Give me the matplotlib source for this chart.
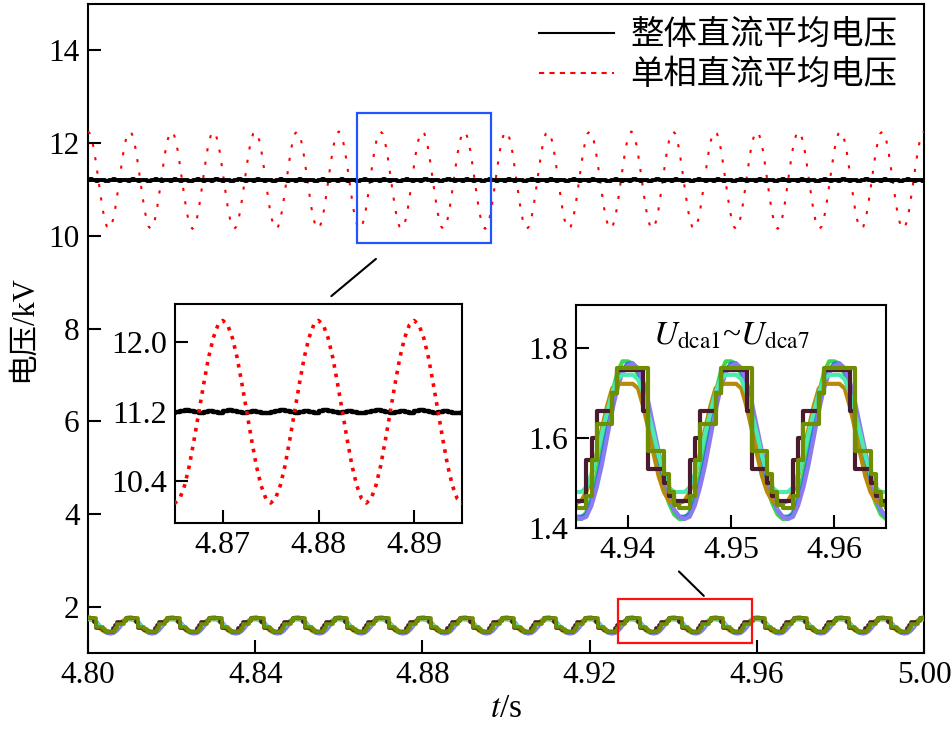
import numpy as np
import matplotlib
matplotlib.use("Agg")
import matplotlib.pyplot as plt
from matplotlib.lines import Line2D
from matplotlib.patches import Rectangle

plt.rcParams['font.family'] = ['Liberation Serif', 'Noto Sans CJK SC']
plt.rcParams['mathtext.fontset'] = 'stix'

# ---------------- data (one sampled cycle per signal, period 0.01 s, dt = 0.0005 s) -------------
t_start = 4.80
t_end = 5.00
dt = 0.0005
n_cycles = 20

red_cycle = [12.25, 12.20, 12.05, 11.82, 11.52, 11.20, 10.88, 10.58, 10.35, 10.20,
             10.15, 10.20, 10.35, 10.58, 10.88, 11.20, 11.52, 11.82, 12.05, 12.20]
black_cycle = [11.21, 11.22, 11.21, 11.20, 11.19, 11.20, 11.21, 11.20, 11.19, 11.19,
               11.20, 11.21, 11.22, 11.21, 11.20, 11.19, 11.20, 11.21, 11.20, 11.19]

green_cycle = [1.77, 1.765, 1.74, 1.70, 1.645, 1.59, 1.535, 1.49, 1.455, 1.43,
               1.42, 1.42, 1.435, 1.47, 1.52, 1.58, 1.64, 1.70, 1.745, 1.77]
blue_cycle = [1.765, 1.765, 1.75, 1.715, 1.665, 1.61, 1.555, 1.505, 1.465, 1.44,
              1.425, 1.425, 1.43, 1.46, 1.50, 1.555, 1.615, 1.675, 1.72, 1.75]
purple_cycle = [1.76, 1.765, 1.755, 1.725, 1.68, 1.625, 1.57, 1.515, 1.47, 1.44,
                1.425, 1.42, 1.425, 1.45, 1.49, 1.54, 1.60, 1.66, 1.71, 1.745]
gold_cycle = [1.72, 1.72, 1.71, 1.67, 1.62, 1.565, 1.515, 1.48, 1.46, 1.455,
              1.455, 1.46, 1.48, 1.515, 1.565, 1.62, 1.67, 1.71, 1.72, 1.72]
aqua_cycle = [1.74, 1.74, 1.73, 1.70, 1.655, 1.61, 1.56, 1.52, 1.49, 1.48,
              1.48, 1.48, 1.49, 1.52, 1.56, 1.61, 1.655, 1.70, 1.73, 1.74]
maroon_cycle = [1.75, 1.75, 1.75, 1.66, 1.53, 1.53, 1.53, 1.50, 1.47, 1.46,
                1.46, 1.46, 1.55, 1.60, 1.66, 1.66, 1.66, 1.70, 1.75, 1.75]
olive_cycle = [1.755, 1.755, 1.755, 1.755, 1.57, 1.57, 1.57, 1.52, 1.48, 1.45,
               1.445, 1.445, 1.47, 1.55, 1.63, 1.63, 1.63, 1.70, 1.755, 1.755]

module_cycles = [green_cycle, blue_cycle, purple_cycle, gold_cycle, aqua_cycle, maroon_cycle, olive_cycle]
module_colors = ['#3fd84c', '#2a78e6', '#8b7bef', '#b88a0a', '#4deab0', '#4a1a2e', '#6f8f00']
module_steps = [False, False, False, False, False, True, True]

legend_labels = ['整体直流平均电压', '单相直流平均电压']
main_xticks = [4.80, 4.84, 4.88, 4.92, 4.96, 5.00]
main_yticks = [2, 4, 6, 8, 10, 12, 14]
in1_xticks = [4.87, 4.88, 4.89]
in1_yticks = [10.4, 11.2, 12.0]
in2_xticks = [4.94, 4.95, 4.96]
in2_yticks = [1.4, 1.6, 1.8]

# ---------------- build series -------------
t = t_start + np.arange(len(red_cycle) * n_cycles + 1) * dt


def series(cycle):
    return np.concatenate([np.tile(cycle, n_cycles), cycle[:1]])


red = series(red_cycle)
black = series(black_cycle)
modules = [series(c) for c in module_cycles]

fig = plt.figure(figsize=(9.52, 7.41), dpi=100)
ax = fig.add_axes([88 / 952, 1 - 653 / 741, (924 - 88) / 952, (653 - 4) / 741])


def style_axes(a, fs, length=9.5):
    for s in a.spines.values():
        s.set_linewidth(1.5)
    a.tick_params(direction='in', length=length, width=1.5, labelsize=fs,
                  top=False, right=False, pad=6)


# main plot
ax.plot(t, black, color='black', lw=2.8, drawstyle='steps-post', zorder=4)
ax.plot(t, red, color='red', lw=1.5, linestyle=(0, (1.5, 5)), zorder=3)
for vals, c, st in zip(modules, module_colors, module_steps):
    ax.plot(t, vals, color=c, lw=2.6, drawstyle='steps-post' if st else 'default', zorder=3)

ax.set_xlim(4.80, 5.00)
ax.set_ylim(1.0, 15.0)
ax.set_xticks(main_xticks)
ax.set_xticklabels([f'{v:.2f}' for v in main_xticks])
ax.set_yticks(main_yticks)
style_axes(ax, 22.5)
ax.set_xlabel('$t$/s', fontsize=24, labelpad=2)
ax.set_ylabel('电压/kV', fontsize=22, labelpad=8)

# legend
h1 = Line2D([], [], color='black', lw=1.5)
h2 = Line2D([], [], color='red', lw=1.5, linestyle=(0, (2.5, 2.5)))
leg = ax.legend([h1, h2], legend_labels, loc='upper right', frameon=False,
                prop={'family': 'Noto Sans CJK SC', 'size': 24},
                handlelength=2.25, handletextpad=0.5, labelspacing=0.15,
                borderaxespad=0.0, bbox_to_anchor=(0.984, 1.0))

# zoom rectangles
ax.add_patch(Rectangle((4.8644, 9.84), 4.8964 - 4.8644, 12.65 - 9.84, fill=False,
                       edgecolor='#2255ff', lw=1.6, zorder=6))
ax.add_patch(Rectangle((4.9268, 1.22), 4.9589 - 4.9268, 2.17 - 1.22, fill=False,
                       edgecolor='#ff1010', lw=1.6, zorder=6))
ax.annotate('', xy=(4.8577, 8.66), xytext=(4.8694, 9.54),
            arrowprops=dict(arrowstyle='-', color='black', lw=1.5))
ax.annotate('', xy=(4.9478, 2.19), xytext=(4.9409, 2.80),
            arrowprops=dict(arrowstyle='-', color='black', lw=1.5))

# inset 1
ax1 = fig.add_axes([175 / 952, 1 - 523 / 741, (462 - 175) / 952, (523 - 304) / 741])
ax1.plot(t, black, color='black', lw=3.2, drawstyle='steps-post', zorder=3)
ax1.plot(t, red, color='red', lw=2.6, linestyle=':', zorder=4)
ax1.set_xlim(4.865, 4.895)
ax1.set_ylim(9.92, 12.44)
ax1.set_xticks(in1_xticks)
ax1.set_xticklabels([f'{v:.2f}' for v in in1_xticks])
ax1.set_yticks(in1_yticks)
ax1.set_yticklabels([f'{v:.1f}' for v in in1_yticks])
style_axes(ax1, 23)

# inset 2
ax2 = fig.add_axes([576 / 952, 1 - 528 / 741, (886 - 576) / 952, (528 - 305) / 741])
for vals, c, st in zip(modules, module_colors, module_steps):
    ax2.plot(t, vals, color=c, lw=3.0, drawstyle='steps-post' if st else 'default')
ax2.set_xlim(4.935, 4.965)
ax2.set_ylim(1.4, 1.895)
ax2.set_xticks(in2_xticks)
ax2.set_xticklabels([f'{v:.2f}' for v in in2_xticks])
ax2.set_yticks(in2_yticks)
ax2.set_yticklabels([f'{v:.1f}' for v in in2_yticks])
style_axes(ax2, 23)
ax2.text(0.5, 0.93, r'$U_{\mathrm{dca1}}$~$U_{\mathrm{dca7}}$', transform=ax2.transAxes,
         ha='center', va='top', fontsize=24)

fig.savefig('out.png', dpi=100)
